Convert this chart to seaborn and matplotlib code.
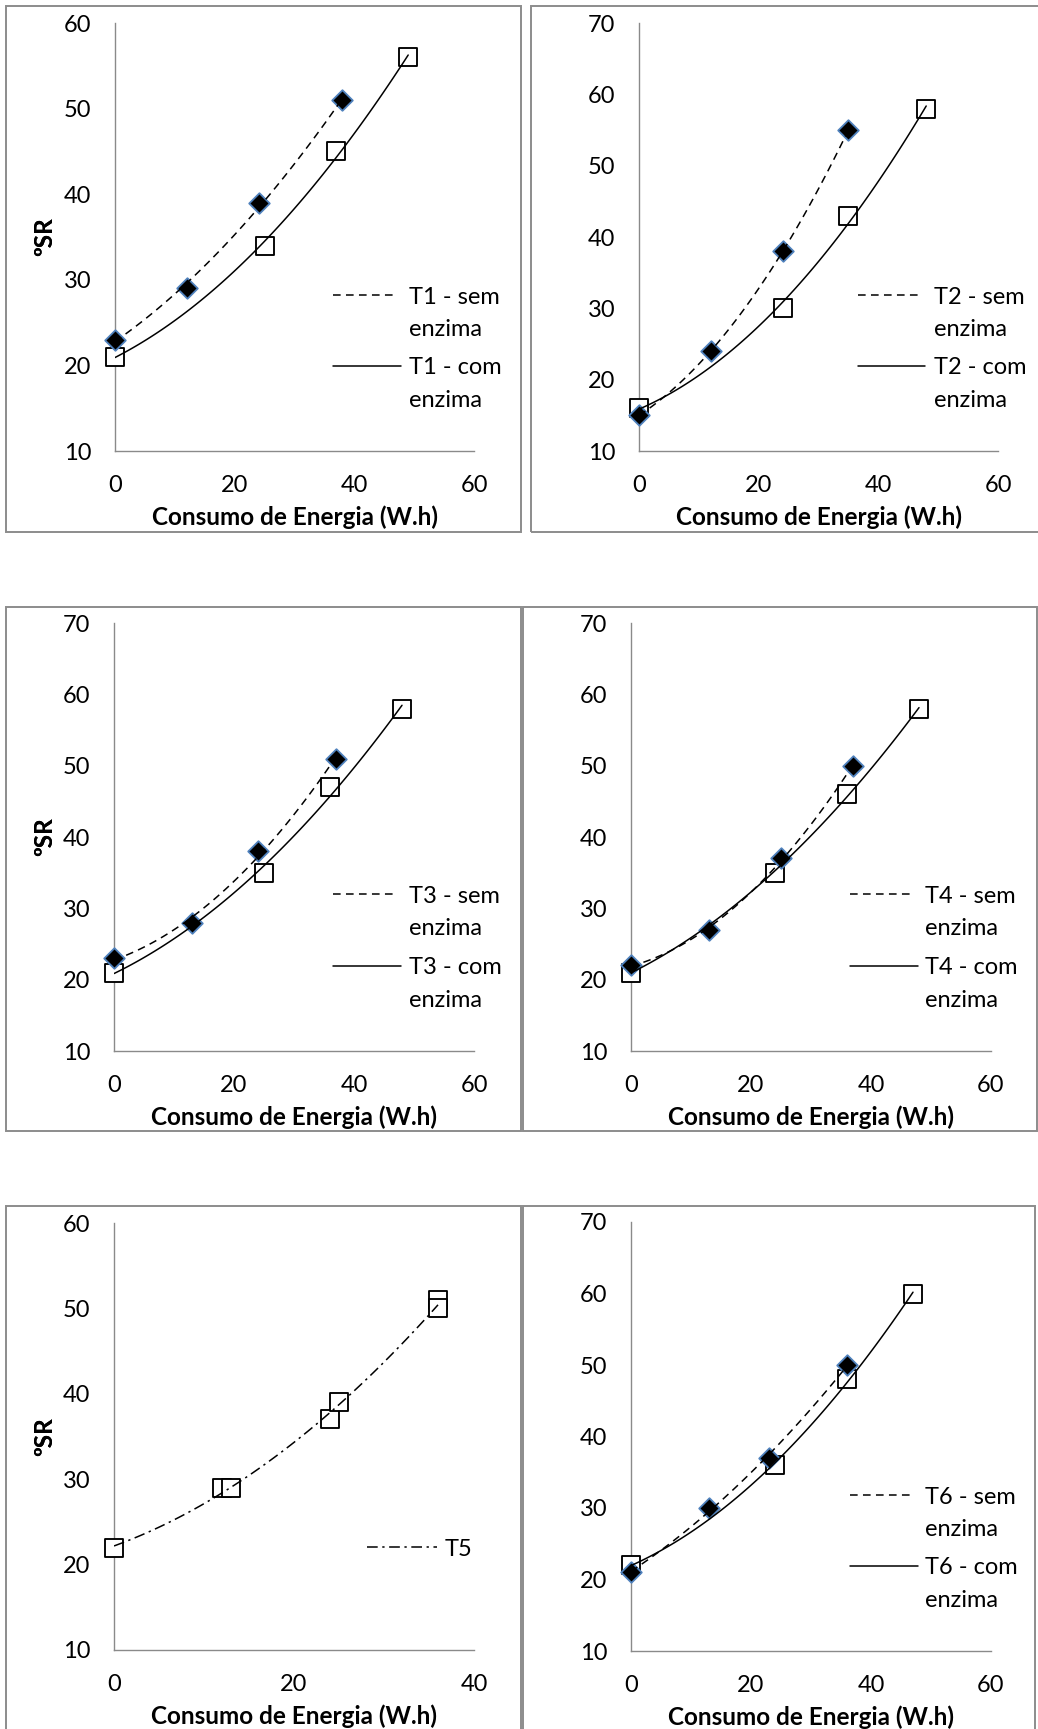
import numpy as np
import pandas as pd
import seaborn as sns
import matplotlib
matplotlib.use("Agg")
import matplotlib.pyplot as plt
from matplotlib.patches import Rectangle
from matplotlib.lines import Line2D

# ---------------- data ----------------
t1_sem_x = [0, 12, 24, 38]
t1_sem_y = [23, 29, 39, 51]
t1_com_x = [0, 25, 37, 49]
t1_com_y = [21, 34, 45, 56]

t2_sem_x = [0, 12, 24, 35]
t2_sem_y = [15, 24, 38, 55]
t2_com_x = [0, 24, 35, 48]
t2_com_y = [16, 30, 43, 58]

t3_sem_x = [0, 13, 24, 37]
t3_sem_y = [23, 28, 38, 51]
t3_com_x = [0, 25, 36, 48]
t3_com_y = [21, 35, 47, 58]

t4_sem_x = [0, 13, 25, 37]
t4_sem_y = [22, 27, 37, 50]
t4_com_x = [0, 24, 36, 48]
t4_com_y = [21, 35, 46, 58]

t5_x = [0, 12, 13, 24, 25, 36, 36]
t5_y = [22, 29, 29, 37, 39, 51, 50]

t6_sem_x = [0, 13, 23, 36]
t6_sem_y = [21, 30, 37, 50]
t6_com_x = [0, 24, 36, 47]
t6_com_y = [22, 36, 48, 60]

x_title = "Consumo de Energia (W.h)"
y_title = "ºSR"

# ---------------- style ----------------
sns.set_theme(style="white")
plt.rcParams['font.family'] = ['Lato', 'DejaVu Sans']

W, H = 1038, 1729
fig = plt.figure(figsize=(W / 100, H / 100), dpi=100)
fig.patch.set_facecolor("white")

GRAY = "#8c8c8c"
AXGRAY = "#8a8a8a"
DIAEDGE = "#4f81bd"
FS = 17.0
FS_T = 17.5
DASH = (0, (5, 3.5))
DASHDOT = (0, (7, 3, 1.5, 3))


def fig_pt(px, py):
    return px / W, 1 - py / H


# panel frames (chart-area borders)
frames = [
    (6, 6, 521, 532), (531, 6, 1040, 532),
    (6, 607, 520.5, 1131), (522.5, 607, 1037, 1131),
    (6, 1206, 520.5, 1745), (522.5, 1206, 1035, 1745),
]
for (x0, y0, x1, y1) in frames:
    fig.add_artist(Rectangle((x0 / W, 1 - y1 / H), (x1 - x0) / W, (y1 - y0) / H,
                             transform=fig.transFigure, fill=False,
                             edgecolor=GRAY, lw=1.4, zorder=0))


def make_ax(l, t, r, b):
    ax = fig.add_axes([l / W, 1 - b / H, (r - l) / W, (b - t) / H])
    ax.set_facecolor("none")
    return ax


def style_ax(ax, xmax, ymax, xticks, yticks):
    ax.set_xlim(0, xmax)
    ax.set_ylim(10, ymax)
    ax.set_xticks(xticks)
    ax.set_yticks(yticks)
    for s in ["top", "right"]:
        ax.spines[s].set_visible(False)
    for s in ["left", "bottom"]:
        ax.spines[s].set_color(AXGRAY)
        ax.spines[s].set_linewidth(1.0)
    ax.tick_params(axis="both", direction="out", length=5.5, width=1.0,
                   color=AXGRAY, labelsize=FS, labelcolor="black", pad=11.5)
    ax.set_xlabel(x_title, fontsize=FS_T, fontweight="bold", color="black")
    ax.set_ylabel(y_title, fontsize=FS_T, fontweight="bold", color="black")
    ax.xaxis.label.set_va("center")
    ax.yaxis.label.set_va("center")
    hpx = ax.get_position().height * H
    wpx = ax.get_position().width * W
    ax.xaxis.set_label_coords(0.5, -66 / hpx)
    ax.yaxis.set_label_coords(-(ax.get_position().x0 * W - 45) / wpx, 0.5)
    ax.grid(False)


def squares(ax, x, y):
    sns.scatterplot(x=x, y=y, marker="s", s=150, color="white",
                    edgecolor="black", linewidth=1.35, ax=ax, zorder=3,
                    clip_on=False, legend=False)


def diamonds(ax, x, y):
    sns.scatterplot(x=x, y=y, marker="D", s=110, color="black",
                    edgecolor=DIAEDGE, linewidth=1.3, ax=ax, zorder=4,
                    clip_on=False, legend=False)


def trend(ax, x, y, ls):
    sns.regplot(x=x, y=y, order=2, ci=None, scatter=False, truncate=True,
                color="black", ax=ax,
                line_kws=dict(lw=1.1, ls=ls, zorder=5))


def legend_entry(hx0, hx1, tx, y, ls, lines):
    fx0, fy0 = fig_pt(hx0, y)
    fx1, _ = fig_pt(hx1, y)
    fig.add_artist(Line2D([fx0, fx1], [fy0, fy0], transform=fig.transFigure,
                          color="black", lw=1.1, ls=ls))
    for i, txt in enumerate(lines):
        px, py = fig_pt(tx, y + 8.5 + 32.5 * i)
        fig.text(px, py, txt, fontsize=FS, va="baseline", ha="left", color="black")


# ---------------- panel 1 ----------------
ax1 = make_ax(115, 23, 474, 451)
squares(ax1, t1_com_x, t1_com_y)
diamonds(ax1, t1_sem_x, t1_sem_y)
trend(ax1, t1_sem_x, t1_sem_y, DASH)
trend(ax1, t1_com_x, t1_com_y, "-")
style_ax(ax1, 60, 60, [0, 20, 40, 60], [10, 20, 30, 40, 50, 60])
legend_entry(333, 395, 409, 295, DASH, ["T1 - sem", "enzima"])
legend_entry(333, 401, 409, 366, "-", ["T1 - com", "enzima"])

# ---------------- panel 2 ----------------
ax2 = make_ax(639, 23, 998, 451)
squares(ax2, t2_com_x, t2_com_y)
diamonds(ax2, t2_sem_x, t2_sem_y)
trend(ax2, t2_sem_x, t2_sem_y, DASH)
trend(ax2, t2_com_x, t2_com_y, "-")
style_ax(ax2, 60, 70, [0, 20, 40, 60], [10, 20, 30, 40, 50, 60, 70])
legend_entry(858, 918, 934, 295, DASH, ["T2 - sem", "enzima"])
legend_entry(858, 925, 934, 366, "-", ["T2 - com", "enzima"])

# ---------------- panel 3 ----------------
ax3 = make_ax(114, 623, 474, 1051)
squares(ax3, t3_com_x, t3_com_y)
diamonds(ax3, t3_sem_x, t3_sem_y)
trend(ax3, t3_sem_x, t3_sem_y, DASH)
trend(ax3, t3_com_x, t3_com_y, "-")
style_ax(ax3, 60, 70, [0, 20, 40, 60], [10, 20, 30, 40, 50, 60, 70])
legend_entry(333, 395, 409, 894, DASH, ["T3 - sem", "enzima"])
legend_entry(333, 401, 409, 966, "-", ["T3 - com", "enzima"])

# ---------------- panel 4 ----------------
ax4 = make_ax(631, 623, 991, 1051)
squares(ax4, t4_com_x, t4_com_y)
diamonds(ax4, t4_sem_x, t4_sem_y)
trend(ax4, t4_sem_x, t4_sem_y, DASH)
trend(ax4, t4_com_x, t4_com_y, "-")
style_ax(ax4, 60, 70, [0, 20, 40, 60], [10, 20, 30, 40, 50, 60, 70])
legend_entry(850, 911, 925, 894, DASH, ["T4 - sem", "enzima"])
legend_entry(850, 918, 925, 966, "-", ["T4 - com", "enzima"])

# ---------------- panel 5 ----------------
ax5 = make_ax(114, 1223, 474, 1650)
squares(ax5, t5_x, t5_y)
trend(ax5, t5_x, t5_y, DASHDOT)
style_ax(ax5, 40, 60, [0, 20, 40], [10, 20, 30, 40, 50, 60])
legend_entry(367, 437, 445, 1547, DASHDOT, ["T5"])

# ---------------- panel 6 ----------------
ax6 = make_ax(631, 1222, 991, 1651)
squares(ax6, t6_com_x, t6_com_y)
diamonds(ax6, t6_sem_x, t6_sem_y)
trend(ax6, t6_sem_x, t6_sem_y, DASH)
trend(ax6, t6_com_x, t6_com_y, "-")
style_ax(ax6, 60, 70, [0, 20, 40, 60], [10, 20, 30, 40, 50, 60, 70])
legend_entry(850, 911, 925, 1495, DASH, ["T6 - sem", "enzima"])
legend_entry(850, 918, 925, 1566, "-", ["T6 - com", "enzima"])

fig.savefig("out.png", dpi=100, facecolor="white")
